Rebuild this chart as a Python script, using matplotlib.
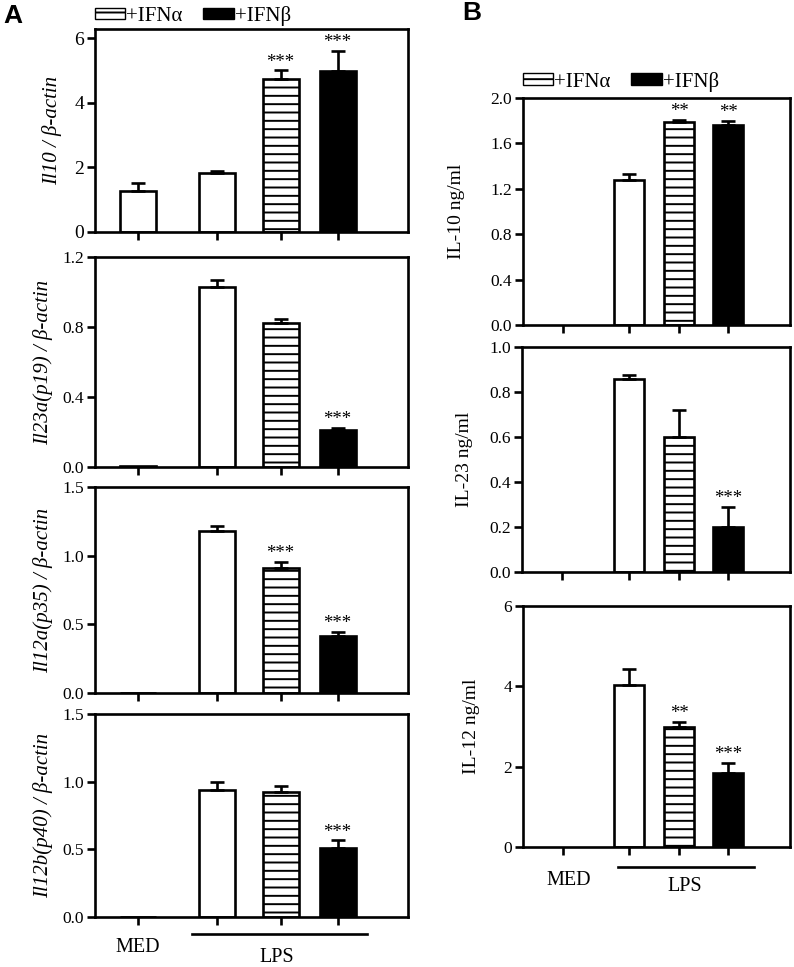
import numpy as np
import matplotlib
matplotlib.use("Agg")
import matplotlib.pyplot as plt
from matplotlib.patches import Patch
from matplotlib.lines import Line2D

plt.rcParams['font.family'] = ['Liberation Serif', 'DejaVu Serif']
plt.rcParams['hatch.linewidth'] = 1.4

# ---------------- data ----------------
groups = ["MED", "LPS", "LPS+IFNα", "LPS+IFNβ"]
legend_labels = ["+IFNα", "+IFNβ"]

# Panel A (mRNA relative to beta-actin)
il10_mrna = [1.27, 1.83, 4.72, 4.98]
il10_mrna_err = [0.25, 0.07, 0.28, 0.63]
il10_mrna_sig = ["", "", "***", "***"]

il23a_mrna = [0.005, 1.03, 0.82, 0.21]
il23a_mrna_err = [0.0, 0.04, 0.025, 0.014]
il23a_mrna_sig = ["", "", "", "***"]

il12a_mrna = [0.003, 1.18, 0.91, 0.415]
il12a_mrna_err = [0.0, 0.035, 0.045, 0.03]
il12a_mrna_sig = ["", "", "***", "***"]

il12b_mrna = [0.003, 0.94, 0.92, 0.51]
il12b_mrna_err = [0.0, 0.06, 0.045, 0.057]
il12b_mrna_sig = ["", "", "", "***"]

# Panel B (protein ng/ml)
il10_prot = [0.0, 1.28, 1.79, 1.76]
il10_prot_err = [0.0, 0.05, 0.02, 0.04]
il10_prot_sig = ["", "", "**", "**"]

il23_prot = [0.0, 0.858, 0.60, 0.20]
il23_prot_err = [0.0, 0.016, 0.12, 0.09]
il23_prot_sig = ["", "", "", "***"]

il12_prot = [0.0, 4.03, 2.98, 1.85]
il12_prot_err = [0.0, 0.39, 0.14, 0.25]
il12_prot_sig = ["", "", "**", "***"]

# ---------------- layout ----------------
W, H = 794, 967
fig = plt.figure(figsize=(W / 100, H / 100), dpi=100)


def rect(l, t, r, b):
    return [l / W, 1 - b / H, (r - l) / W, (b - t) / H]


posA = [0.136, 0.390, 0.593, 0.775]
posB = [0.150, 0.398, 0.585, 0.768]
wA, wB = 0.115, 0.113
faces = ["white", "white", "white", "black"]
hatches = [None, None, "--", None]
LW = 1.9


def panel(box, pos, width, mean, err, sig, ylim, yticks, yticklabels, ylabel,
          italic, lab_x, tickfs, labfs):
    ax = fig.add_axes(rect(*box))
    for i in range(len(mean)):
        if mean[i] > 0:
            ax.bar(pos[i], mean[i], width, color=faces[i], edgecolor="black",
                   hatch=hatches[i], linewidth=LW, zorder=2)
        if err[i] > 0:
            ax.errorbar(pos[i], mean[i], yerr=[[0], [err[i]]], fmt="none",
                        ecolor="black", elinewidth=LW, capsize=5,
                        capthick=LW, zorder=3)
        if sig[i]:
            ax.annotate(sig[i], (pos[i], mean[i] + err[i]), xytext=(0, 2.5),
                        textcoords="offset points", ha="center",
                        va="baseline", fontsize=13.5)
    ax.set_xlim(0, 1)
    ax.set_ylim(*ylim)
    ax.set_xticks(pos)
    ax.set_xticklabels([])
    ax.set_yticks(yticks)
    ax.set_yticklabels(yticklabels, fontsize=tickfs)
    ax.tick_params(direction="out", length=6, width=LW, pad=2)
    for s in ax.spines.values():
        s.set_linewidth(LW)
    ax.set_ylabel(ylabel, fontsize=labfs, style="italic" if italic else "normal")
    ax.yaxis.set_label_coords(lab_x, 0.5)
    return ax


# Panel A axes (pixel boxes)
axA1 = panel((95, 29, 408, 232), posA, wA, il10_mrna, il10_mrna_err, il10_mrna_sig,
             (0, 6.28), [0, 2, 4, 6], ["0", "2", "4", "6"],
             "Il10 / β-actin", True, -0.105, 14, 15)
axA2 = panel((95, 257, 408, 467), posA, wA, il23a_mrna, il23a_mrna_err, il23a_mrna_sig,
             (0, 1.2), [0, 0.4, 0.8, 1.2], ["0.0", "0.4", "0.8", "1.2"],
             "Il23a(p19) / β-actin", True, -0.134, 12.5, 15)
axA3 = panel((95, 487, 408, 693), posA, wA, il12a_mrna, il12a_mrna_err, il12a_mrna_sig,
             (0, 1.5), [0, 0.5, 1.0, 1.5], ["0.0", "0.5", "1.0", "1.5"],
             "Il12a(p35) / β-actin", True, -0.134, 12.5, 15)
axA4 = panel((95, 714, 408, 917), posA, wA, il12b_mrna, il12b_mrna_err, il12b_mrna_sig,
             (0, 1.5), [0, 0.5, 1.0, 1.5], ["0.0", "0.5", "1.0", "1.5"],
             "Il12b(p40) / β-actin", True, -0.134, 12.5, 15)

# Panel B axes
axB1 = panel((523, 98, 790, 325), posB, wB, il10_prot, il10_prot_err, il10_prot_sig,
             (0, 2.0), [0, 0.4, 0.8, 1.2, 1.6, 2.0],
             ["0.0", "0.4", "0.8", "1.2", "1.6", "2.0"],
             "IL-10 ng/ml", False, -0.217, 12.5, 14)
axB2 = panel((522, 347, 790, 572), posB, wB, il23_prot, il23_prot_err, il23_prot_sig,
             (0, 1.0), [0, 0.2, 0.4, 0.6, 0.8, 1.0],
             ["0.0", "0.2", "0.4", "0.6", "0.8", "1.0"],
             "IL-23 ng/ml", False, -0.183, 12.5, 14)
axB3 = panel((523, 606, 790, 847), posB, wB, il12_prot, il12_prot_err, il12_prot_sig,
             (0, 6.0), [0, 2, 4, 6], ["0", "2", "4", "6"],
             "IL-12 ng/ml", False, -0.16, 12.5, 14)

# Bottom group labels
def group_labels(ax, med_x, line_x0, line_x1, line_y, med_y, lps_x, lps_y):
    ax.add_line(Line2D([line_x0, line_x1], [line_y, line_y], color="black",
                       lw=LW, transform=ax.transAxes, clip_on=False))
    ax.text(med_x, med_y, groups[0], transform=ax.transAxes, ha="center",
            va="center", fontsize=14.5)
    ax.text(lps_x, lps_y, groups[1], transform=ax.transAxes, ha="center",
            va="center", fontsize=14.5)

group_labels(axA4, posA[0], 0.31, 0.869, -0.084, -0.148, 0.581, -0.2)
group_labels(axB3, posB[0] + 0.02, 0.356, 0.865, -0.082, -0.137, 0.607, -0.162)

# Legends
handles = [Patch(facecolor="white", edgecolor="black", hatch="--", linewidth=1.0),
           Patch(facecolor="black", edgecolor="black")]
for ax, yoff in ((axA1, 1.015), (axB1, 1.028)):
    ax.legend(handles, legend_labels, ncol=2, frameon=False, loc="lower left",
              bbox_to_anchor=(0.0, yoff), borderaxespad=0, borderpad=0,
              handlelength=1.45, handleheight=0.5, handletextpad=0.05,
              columnspacing=1.0, fontsize=15)

# Panel letters
fig.text(3 / W, 1 - 4 / H, "A", fontsize=19, fontweight="bold",
         family="Liberation Sans", ha="left", va="top")
fig.text(462 / W, 1 - 1 / H, "B", fontsize=19, fontweight="bold",
         family="Liberation Sans", ha="left", va="top")

fig.savefig("out.png", dpi=100)
